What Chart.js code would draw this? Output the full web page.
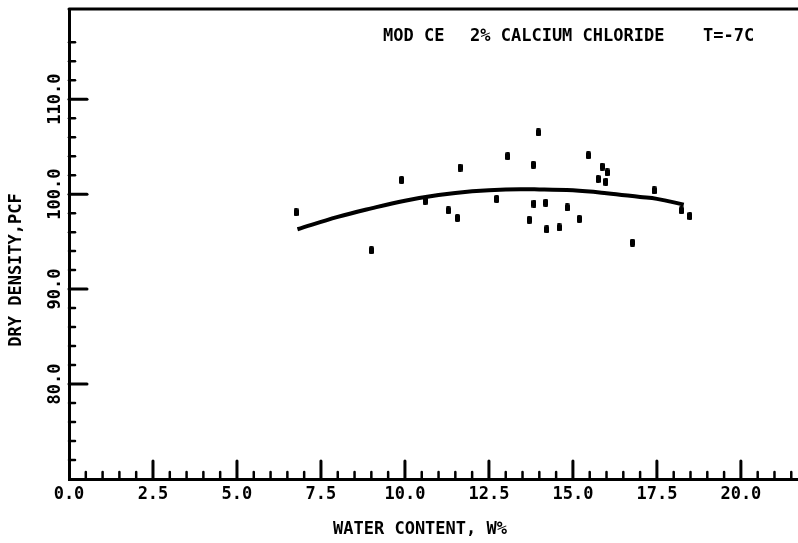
<!DOCTYPE html>
<html>
<head>
<meta charset="utf-8">
<script src="https://cdn.jsdelivr.net/npm/chart.js@4.4.1/dist/chart.umd.min.js"></script>
<style>
  body { margin: 0; background: #fff; }
</style>
</head>
<body>
<canvas id="myChart" width="798" height="543"></canvas>
<script>
// measured points
const waterContent = [6.76, 9.0, 9.9, 10.6, 11.29, 11.56, 11.64, 12.73, 13.06, 13.97, 13.82, 13.84, 14.19, 13.7,
  14.22, 14.59, 14.83, 15.19, 15.46, 15.87, 16.02, 15.75, 15.98, 17.42, 16.77, 18.23, 18.48];
const dryDensity = [98.1, 94.1, 101.5, 99.3, 98.3, 97.5, 102.8, 99.5, 104.0, 106.5, 103.1, 99.0, 99.1, 97.3,
  96.3, 96.5, 98.6, 97.4, 104.1, 102.9, 102.3, 101.6, 101.3, 100.4, 94.9, 98.3, 97.7];

// fitted curve
const fitWater = [6.8, 8.0, 9.0, 10.0, 11.0, 12.0, 13.0, 14.0, 15.0, 16.0, 17.0, 17.5, 18.3];
const fitDensity = [96.3, 97.6, 98.5, 99.3, 99.9, 100.3, 100.5, 100.5, 100.4, 100.1, 99.7, 99.5, 98.9];

const noteParts = ['MOD CE', '2% CALCIUM CHLORIDE', 'T=-7C'];
const xTitle = 'WATER CONTENT, W%';
const yTitle = 'DRY DENSITY,PCF';

const FONT = 'bold 17px "DejaVu Sans Mono"';

// little upright blob used as the marker
const marker = document.createElement('canvas');
marker.width = 5; marker.height = 8;
const mctx = marker.getContext('2d');
mctx.fillStyle = '#000';
mctx.beginPath();
mctx.roundRect(0, 0, 5, 8, 1.5);
mctx.fill();

// inward tick marks + top frame line + free text
const plotterDecor = {
  id: 'plotterDecor',
  afterDraw(chart) {
    const { ctx, chartArea, scales } = chart;
    const xs = scales.x, ys = scales.y;
    ctx.save();
    ctx.strokeStyle = '#000';
    ctx.lineCap = 'round';

    // top frame
    ctx.lineWidth = 3;
    ctx.beginPath();
    ctx.moveTo(chartArea.left, chartArea.top);
    ctx.lineTo(chartArea.right, chartArea.top);
    ctx.stroke();

    // x ticks every 0.5, major every 2.5
    for (let i = 1; i <= 43; i++) {
      const px = xs.getPixelForValue(i / 2);
      if (px > chartArea.right - 3) break;
      const major = i % 5 === 0;
      ctx.lineWidth = major ? 3 : 2.5;
      ctx.beginPath();
      ctx.moveTo(px, chartArea.bottom);
      ctx.lineTo(px, chartArea.bottom - (major ? 18 : 7));
      ctx.stroke();
    }
    // y ticks every 2, major every 10
    for (let v = 72; v <= 116; v += 2) {
      const py = ys.getPixelForValue(v);
      const major = v % 10 === 0;
      ctx.lineWidth = major ? 3 : 2.5;
      ctx.beginPath();
      ctx.moveTo(chartArea.left, py);
      ctx.lineTo(chartArea.left + (major ? 18 : 6), py);
      ctx.stroke();
    }

    ctx.fillStyle = '#000';
    ctx.font = FONT;
    ctx.textBaseline = 'middle';
    ctx.textAlign = 'left';
    ctx.fillText(noteParts[0], 383, 37);
    ctx.fillText(noteParts[1], 470, 37);
    ctx.fillText(noteParts[2], 703, 37);

    ctx.textAlign = 'center';
    ctx.fillText(xTitle, 420, 530);

    ctx.translate(17, 270);
    ctx.rotate(-Math.PI / 2);
    ctx.fillText(yTitle, 0, 0);
    ctx.restore();
  }
};

const config = {
  type: 'scatter',
  data: {
    datasets: [
      {
        label: 'Fit',
        type: 'line',
        data: fitWater.map((x, i) => ({ x: x, y: fitDensity[i] })),
        borderColor: '#000',
        borderWidth: 4,
        pointRadius: 0,
        tension: 0.4,
        fill: false,
      },
      {
        label: 'Tests',
        data: waterContent.map((x, i) => ({ x: x, y: dryDensity[i] })),
        pointStyle: marker,
        pointRadius: 4,
        backgroundColor: '#000',
        borderColor: '#000',
      },
    ],
  },
  options: {
    responsive: false,
    animation: false,
    layout: { autoPadding: false, padding: { top: 9, right: 0, left: 0, bottom: 0 } },
    plugins: { legend: { display: false }, tooltip: { enabled: false } },
    scales: {
      x: {
        type: 'linear',
        min: 0,
        max: 21.7,
        grid: { display: false, drawTicks: false },
        border: { display: true, color: '#000', width: 3 },
        ticks: {
          stepSize: 2.5,
          includeBounds: false,
          padding: 5,
          color: '#000',
          font: { family: 'DejaVu Sans Mono', size: 17, weight: 'bold' },
          callback: (v) => v.toFixed(1),
        },
        afterFit: (scale) => {
          scale.height = 64;
          scale.paddingLeft = 0;
          scale.paddingRight = 0;
        },
      },
      y: {
        type: 'linear',
        min: 70,
        max: 119.5,
        grid: { display: false, drawTicks: false },
        border: { display: true, color: '#000', width: 3 },
        ticks: {
          stepSize: 10,
          includeBounds: false,
          minRotation: 90,
          maxRotation: 90,
          crossAlign: 'center',
          padding: -12,
          color: '#000',
          font: { family: 'DejaVu Sans Mono', size: 17, weight: 'bold' },
          callback: (v) => (v === 70 ? '' : v.toFixed(1)),
        },
        afterFit: (scale) => {
          scale.width = 69;
          scale.paddingTop = 0;
          scale.paddingBottom = 0;
        },
      },
    },
  },
  plugins: [plotterDecor],
};

const myChart = new Chart(document.getElementById('myChart'), config);
</script>
</body>
</html>
